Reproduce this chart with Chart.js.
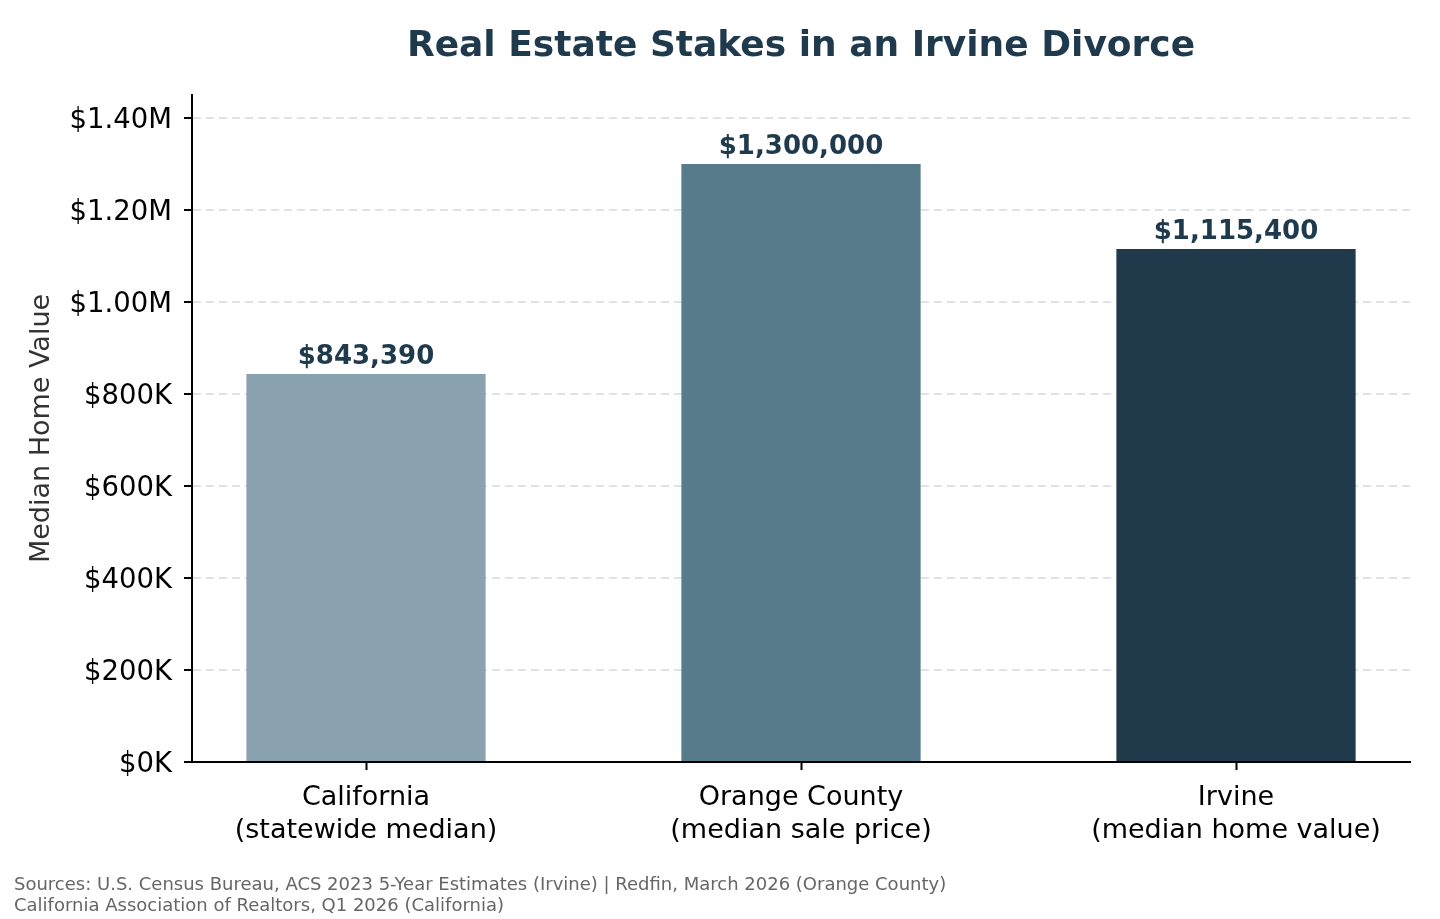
<!DOCTYPE html>
<html>
<head>
<meta charset="utf-8">
<title>Real Estate Stakes in an Irvine Divorce</title>
<script src="https://cdn.jsdelivr.net/npm/chart.js@4.4.1/dist/chart.umd.min.js"></script>
<style>
  html, body { margin: 0; padding: 0; background: #ffffff; }
  #wrap { width: 1440px; height: 919px; position: relative; }
</style>
</head>
<body>
<div id="wrap"><canvas id="grafico"></canvas></div>
<script>
// dados do grafico
const categorias = [
  ['California', '(statewide median)'],
  ['Orange County', '(median sale price)'],
  ['Irvine', '(median home value)']
];
const valores = [843390, 1300000, 1115400];
const rotulosValor = ['$843,390', '$1,300,000', '$1,115,400'];
const cores = ['#8aa2b0', '#587b8b', '#20394b'];
const ticksY = [0, 200000, 400000, 600000, 800000, 1000000, 1200000, 1400000];
const fontes = [
  'Sources: U.S. Census Bureau, ACS 2023 5-Year Estimates (Irvine) | Redfin, March 2026 (Orange County)',
  'California Association of Realtors, Q1 2026 (California)'
];
const titulo = 'Real Estate Stakes in an Irvine Divorce';

const FONTE = '"DejaVu Sans", "Noto Sans", sans-serif';

function formataY(v) {
  if (v >= 1000000) return '$' + (v / 1000000).toFixed(2) + 'M';
  return '$' + Math.round(v / 1000) + 'K';
}

// escreve titulo, valores das barras e rodape
const textosExtras = {
  id: 'textosExtras',
  afterDatasetsDraw(chart) {
    const ctx = chart.ctx;
    const area = chart.chartArea;
    ctx.save();

    ctx.fillStyle = '#1f3a4d';
    ctx.font = 'bold 36px ' + FONTE;
    ctx.textAlign = 'center';
    ctx.textBaseline = 'middle';
    ctx.fillText(titulo, (area.left + area.right) / 2, 47);

    ctx.font = 'bold 26px ' + FONTE;
    ctx.textBaseline = 'bottom';
    chart.getDatasetMeta(0).data.forEach((barra, i) => {
      ctx.fillText(rotulosValor[i], barra.x, barra.y - 4);
    });

    ctx.fillStyle = '#666666';
    ctx.font = '18px ' + FONTE;
    ctx.textAlign = 'left';
    ctx.textBaseline = 'middle';
    fontes.forEach((linha, i) => {
      ctx.fillText(linha, 14, 885 + i * 21);
    });
    ctx.restore();
  }
};

const grafico = new Chart(document.getElementById('grafico'), {
  type: 'bar',
  data: {
    datasets: [{
      data: valores.map((v, i) => ({ x: i, y: v })),
      backgroundColor: cores,
      borderWidth: 0,
      categoryPercentage: 1,
      barPercentage: 0.55
    }]
  },
  options: {
    responsive: true,
    maintainAspectRatio: false,
    devicePixelRatio: 1,
    animation: false,
    layout: { padding: { top: 95, right: 30, left: 0, bottom: 0 } },
    plugins: {
      legend: { display: false },
      tooltip: { enabled: false },
      title: { display: false }
    },
    scales: {
      x: {
        type: 'linear',
        min: -0.4,
        max: 2.4,
        offset: false,
        afterBuildTicks: (escala) => {
          escala.ticks = categorias.map((c, i) => ({ value: i }));
        },
        afterFit: (escala) => { escala.height = 157; },
        grid: {
          offset: false,
          drawOnChartArea: false,
          drawTicks: true,
          tickLength: 8,
          tickColor: '#000000',
          tickWidth: 2,
          color: '#000000'
        },
        border: { display: true, color: '#000000', width: 2 },
        ticks: {
          color: '#000000',
          padding: 12,
          autoSkip: false,
          maxRotation: 0,
          font: { family: FONTE, size: 27, lineHeight: 1.2 },
          callback: (v) => categorias[v]
        }
      },
      y: {
        min: 0,
        max: 1450000,
        afterBuildTicks: (escala) => {
          escala.ticks = ticksY.map(v => ({ value: v }));
        },
        afterFit: (escala) => { escala.width = 192; },
        grid: {
          color: '#e2e2e2',
          lineWidth: 2,
          drawTicks: true,
          tickLength: 8,
          tickColor: '#000000',
          tickWidth: 2,
          tickBorderDash: []
        },
        border: { display: true, color: '#000000', width: 2, dash: [8, 5] },
        ticks: {
          color: '#000000',
          padding: 12,
          labelOffset: 3,
          font: { family: FONTE, size: 27.5 },
          callback: (v) => formataY(v)
        },
        title: {
          display: true,
          text: 'Median Home Value',
          color: '#333333',
          font: { family: FONTE, size: 27 },
          padding: { top: 26, bottom: 0 }
        }
      }
    }
  },
  plugins: [textosExtras]
});
</script>
</body>
</html>
